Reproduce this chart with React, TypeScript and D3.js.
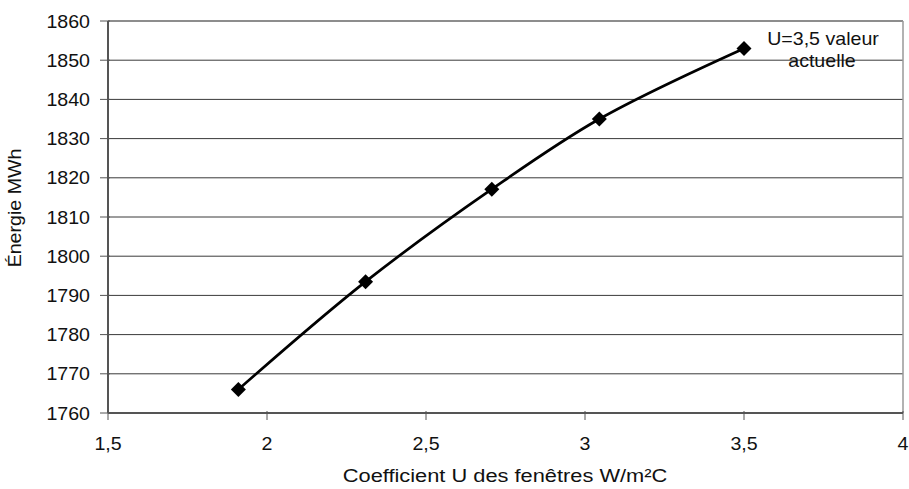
import React from "react";
import * as d3 from "d3";

const uValues = [1.91, 2.31, 2.707, 3.045, 3.5];
const energy = [1766, 1793.5, 1817.1, 1835, 1853];
const xTicks = [1.5, 2, 2.5, 3, 3.5, 4];
const yTicks = [1760, 1770, 1780, 1790, 1800, 1810, 1820, 1830, 1840, 1850, 1860];
const xTitle = "Coefficient U des fenêtres W/m²C";
const yTitle = "Énergie MWh";
const noteLines = ["U=3,5 valeur", "actuelle"];

const W = 909;
const H = 489;
const M = { left: 108, right: 6, top: 21, bottom: 76 };
const FONT = "Liberation Sans, Arial, sans-serif";
const SX = 1.06;

function T({ x, y, anchor = "middle", children, size = 18.5, rotate = 0, sx = SX }: any) {
  return (
    <g transform={`translate(${x},${y}) rotate(${rotate}) scale(${sx},1)`}>
      <text x={0} y={0} textAnchor={anchor} fontFamily={FONT} fontSize={size} fill="#111">
        {children}
      </text>
    </g>
  );
}

export default function App() {
  const x = d3.scaleLinear().domain([1.5, 4]).range([M.left, W - M.right]);
  const y = d3.scaleLinear().domain([1760, 1860]).range([H - M.bottom, M.top]);
  const fmt = (v: number) => String(v).replace(".", ",");
  const pts = uValues.map((u, i) => [x(u), y(energy[i])] as [number, number]);
  const line = d3.line().curve(d3.curveCatmullRom.alpha(0.5))(pts) || "";
  const diamond = d3.symbol().type(d3.symbolSquare).size(112)() || "";
  const x0 = x(1.5), x1 = x(4), y0 = y(1760), y1 = y(1860);
  return (
    <svg width={W} height={H} style={{ position: "absolute", left: 0, top: 0, background: "#fff" }}>
      {yTicks.map((t) => (
        <line key={"g" + t} x1={x0} x2={x1} y1={y(t)} y2={y(t)} stroke="#3a3a3a" strokeWidth={1} />
      ))}
      <line x1={x0} x2={x1} y1={y1} y2={y1} stroke="#888" strokeWidth={1.5} />
      <line x1={x1} x2={x1} y1={y1} y2={y0} stroke="#999" strokeWidth={1.5} />
      <line x1={x0} x2={x0} y1={y1} y2={y0} stroke="#555" strokeWidth={2} />
      <line x1={x0} x2={x1} y1={y0} y2={y0} stroke="#555" strokeWidth={2} />
      {yTicks.map((t) => (
        <g key={"y" + t}>
          <line x1={x0 - 8} x2={x0 + 2} y1={y(t)} y2={y(t)} stroke="#555" strokeWidth={1} />
          <T x={90} y={y(t) + 6.5} anchor="end">{fmt(t)}</T>
        </g>
      ))}
      {xTicks.map((t) => (
        <g key={"x" + t}>
          <line x1={x(t)} x2={x(t)} y1={y0 - 2} y2={y0 + 7} stroke="#555" strokeWidth={1} />
          <T x={x(t)} y={450}>{fmt(t)}</T>
        </g>
      ))}
      <path d={line} fill="none" stroke="#000" strokeWidth={2.7} />
      {pts.map((p, i) => (
        <path key={i} d={diamond} transform={`translate(${p[0]},${p[1]}) rotate(45)`} fill="#000" />
      ))}
      <T x={823} y={45}>{noteLines[0]}</T>
      <T x={822} y={67}>{noteLines[1]}</T>
      <T x={505} y={482} sx={1.18}>{xTitle}</T>
      <T x={21} y={208} rotate={-90}>{yTitle}</T>
    </svg>
  );
}
